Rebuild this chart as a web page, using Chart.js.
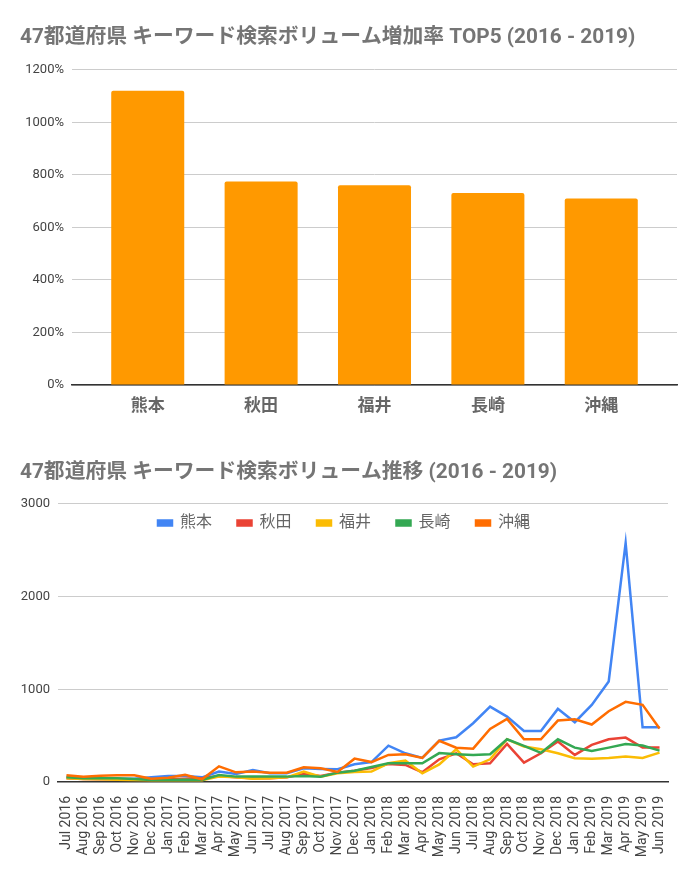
<!DOCTYPE html>
<html>
<head>
<meta charset="utf-8">
<script src="https://cdn.jsdelivr.net/npm/chart.js@4.4.1/dist/chart.umd.min.js"></script>
<style>
  html, body { margin: 0; padding: 0; background: #fff; }
  canvas { display: block; }
</style>
</head>
<body>
<canvas id="growthChart" width="700" height="440"></canvas>
<canvas id="trendChart" width="700" height="441"></canvas>
<script>
const prefectures = ['熊本', '秋田', '福井', '長崎', '沖縄'];
const growthRates = [1121, 775, 761, 731, 710];

const months = [
    'Jul 2016', 'Aug 2016', 'Sep 2016', 'Oct 2016', 'Nov 2016', 'Dec 2016',
    'Jan 2017', 'Feb 2017', 'Mar 2017', 'Apr 2017', 'May 2017', 'Jun 2017',
    'Jul 2017', 'Aug 2017', 'Sep 2017', 'Oct 2017', 'Nov 2017', 'Dec 2017',
    'Jan 2018', 'Feb 2018', 'Mar 2018', 'Apr 2018', 'May 2018', 'Jun 2018',
    'Jul 2018', 'Aug 2018', 'Sep 2018', 'Oct 2018', 'Nov 2018', 'Dec 2018',
    'Jan 2019', 'Feb 2019', 'Mar 2019', 'Apr 2019', 'May 2019', 'Jun 2019'
];
const kumamoto = [58, 40, 40, 36, 36, 50, 65, 65, 50, 112, 86, 130, 94, 94, 148, 141, 137, 191,
    215, 392, 310, 260, 447, 483, 634, 814, 706, 551, 551, 789, 645, 832, 1085, 2580, 591, 591];
const akita = [40, 32, 29, 29, 25, 25, 29, 36, 40, 65, 50, 40, 40, 50, 86, 65, 101, 122,
    150, 195, 184, 105, 245, 310, 191, 202, 411, 209, 310, 436, 292, 400, 461, 479, 371, 371];
const fukui = [40, 32, 29, 25, 22, 18, 18, 22, 18, 58, 50, 36, 40, 50, 112, 58, 94, 108,
    112, 202, 230, 94, 190, 353, 166, 245, 461, 382, 353, 310, 256, 252, 259, 274, 259, 317];
const nagasaki = [50, 40, 40, 40, 32, 22, 22, 25, 22, 76, 58, 58, 58, 58, 65, 58, 101, 122,
    162, 202, 202, 202, 312, 300, 292, 299, 461, 389, 314, 461, 371, 335, 371, 411, 393, 339];
const okinawa = [72, 58, 68, 72, 72, 36, 47, 79, 29, 169, 104, 112, 101, 101, 159, 148, 108, 252,
    215, 292, 300, 260, 445, 370, 360, 573, 681, 461, 461, 663, 677, 620, 764, 865, 832, 577];

Chart.defaults.font.family = 'Roboto, "Noto Sans CJK JP", sans-serif';
Chart.defaults.animation = false;

const titleFont = { size: 20.8, weight: 'bold' };
const tickColor = '#444';

// legend sits inside the plot area, like the original:
// it takes little room in the layout but is allowed to draw below its box
const legendOverlay = {
    id: 'legendOverlay',
    beforeInit(chart) {
        const legend = chart.legend;
        if (!legend || legend._patched) return;
        const fit = legend.fit;
        legend.fit = function () {
            fit.call(this);
            this.height = 14.5;
        };
        const draw = legend.draw;
        legend.draw = function () {
            const bottom = this.bottom;
            this.bottom = bottom + 60;
            draw.call(this);
            this.bottom = bottom;
        };
        legend._patched = true;
    }
};

new Chart(document.getElementById('growthChart'), {
    type: 'bar',
    data: {
        labels: prefectures,
        datasets: [{
            data: growthRates,
            backgroundColor: '#ff9900',
            borderRadius: 2,
            barPercentage: 0.644,
            categoryPercentage: 1
        }]
    },
    options: {
        responsive: false,
        layout: { padding: { left: 20, right: 23, top: 0, bottom: 0 } },
        plugins: {
            legend: { display: false },
            tooltip: { enabled: false },
            title: {
                display: true,
                text: '47都道府県 キーワード検索ボリューム増加率 TOP5 (2016 - 2019)',
                align: 'start',
                color: '#757575',
                font: titleFont,
                padding: { top: 25, bottom: 20 }
            }
        },
        scales: {
            x: {
                grid: { display: false },
                border: { color: '#333', width: 1.5 },
                ticks: { color: '#666', font: { size: 17, weight: 'bold' }, padding: 4 },
                // google leaves some room between the gridline ends and the outer bars
                afterBuildTicks: function (scale) {
                    const pad = 0.668;
                    scale._startValue = scale.min - pad;
                    scale._valueRange = scale.max - scale.min + 2 * pad;
                },
                afterFit: function (scale) { scale.height = 55; }
            },
            y: {
                min: 0,
                max: 1200,
                grid: { color: '#ccc', drawTicks: false },
                border: { display: false },
                ticks: {
                    stepSize: 200,
                    color: tickColor,
                    font: { size: 13 },
                    padding: 8,
                    callback: v => v + '%'
                },
                afterFit: function (scale) { scale.width = 52; }
            }
        }
    }
});

const series = [
    { label: '熊本', data: kumamoto, color: '#4285f4' },
    { label: '秋田', data: akita, color: '#ea4335' },
    { label: '福井', data: fukui, color: '#fbbc04' },
    { label: '長崎', data: nagasaki, color: '#34a853' },
    { label: '沖縄', data: okinawa, color: '#ff6d01' }
];

new Chart(document.getElementById('trendChart'), {
    type: 'line',
    data: {
        labels: months,
        datasets: series.map((s, i) => ({
            label: s.label,
            data: s.data,
            borderColor: s.color,
            backgroundColor: s.color,
            borderWidth: 2.5,
            pointRadius: 0,
            tension: 0,
            order: series.length - i
        }))
    },
    options: {
        responsive: false,
        layout: { padding: { left: 20, right: 32, top: 0, bottom: 0 } },
        plugins: {
            tooltip: { enabled: false },
            title: {
                display: true,
                text: '47都道府県 キーワード検索ボリューム推移 (2016 - 2019)',
                align: 'start',
                color: '#757575',
                font: titleFont,
                padding: { top: 20, bottom: 4.5 }
            },
            legend: {
                position: 'top',
                labels: {
                    boxWidth: 14,
                    boxHeight: 5,
                    padding: 25.5,
                    color: '#666',
                    font: { size: 16 },
                    sort: (a, b) => a.datasetIndex - b.datasetIndex
                }
            }
        },
        scales: {
            x: {
                offset: true,
                grid: { display: false },
                border: { color: '#333', width: 1.5 },
                ticks: {
                    autoSkip: false,
                    maxRotation: 90,
                    minRotation: 90,
                    color: tickColor,
                    font: { size: 14 },
                    padding: 6
                },
                afterFit: function (scale) { scale.height = 99; }
            },
            y: {
                min: 0,
                max: 3000,
                grid: { color: '#ccc', drawTicks: false },
                border: { display: false },
                ticks: {
                    stepSize: 1000,
                    color: tickColor,
                    font: { size: 13 },
                    padding: 8,
                    callback: v => String(v)
                },
                afterFit: function (scale) { scale.width = 38; }
            }
        }
    },
    plugins: [legendOverlay]
});
</script>
</body>
</html>
